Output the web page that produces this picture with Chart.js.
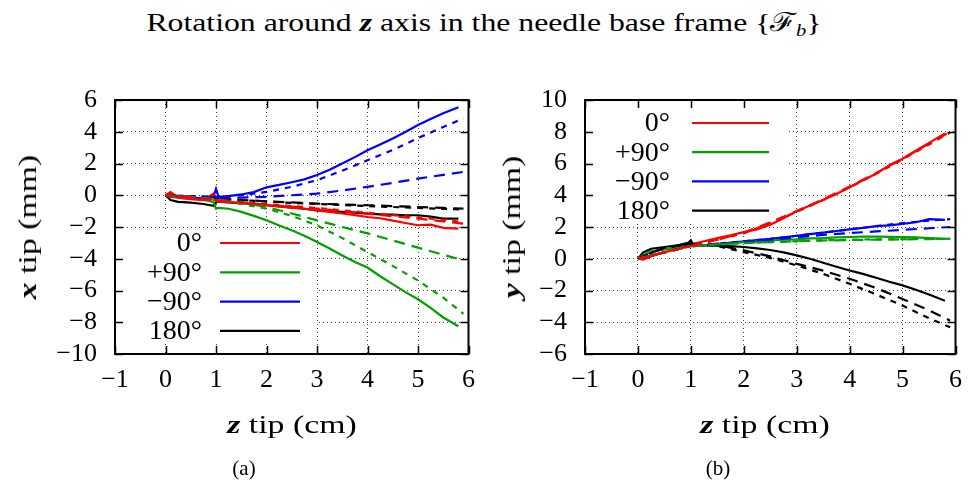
<!DOCTYPE html>
<html>
<head>
<meta charset="utf-8">
<script src="https://cdn.jsdelivr.net/npm/chart.js@4"></script>
<style>
  body { margin: 0; background: #fff; width: 973px; height: 489px; position: relative; overflow: hidden; font-family: "Liberation Serif", serif; color: #000; }
  .txt { position: absolute; white-space: nowrap; transform: translate(-50%, -50%) scaleX(1.3); font-size: 26px; }
  .rot { transform: translate(-50%, -50%) rotate(-90deg) scaleX(1.3); }
  .cap { transform: translate(-50%, -50%); font-size: 21px; }
  .title { transform: translate(-50%, -50%) scaleX(1.22); font-size: 26px; }
  canvas { position: absolute; top: 0; }
  sub { font-size: 65%; vertical-align: -0.25em; }
</style>
</head>
<body>
<div class="txt title" style="left:484px; top:22px;">Rotation around <b><i>z</i></b> axis in the needle base frame {ℱ<sub><i>b</i></sub>}</div>

<canvas id="chartX" width="486" height="489" style="left:0"></canvas>
<canvas id="chartY" width="487" height="489" style="left:486px"></canvas>

<div class="txt rot" style="left:28px; top:227px;"><b><i>x</i></b> tip (mm)</div>
<div class="txt rot" style="left:512px; top:227px;"><b><i>y</i></b> tip (mm)</div>
<div class="txt" style="left:292px; top:425px;"><b><i>z</i></b> tip (cm)</div>
<div class="txt" style="left:765px; top:425px;"><b><i>z</i></b> tip (cm)</div>
<div class="txt cap" style="left:244px; top:468px;">(a)</div>
<div class="txt cap" style="left:718px; top:468px;">(b)</div>

<script>
// insertion depth (cm)
const zMeas  = [0, 0.1, 0.25, 0.5, 0.75, 0.95, 1.0, 1.05, 1.25, 1.5, 1.75, 2.0, 2.25, 2.5, 2.75, 3.0, 3.25, 3.5, 3.75, 4.0, 4.25, 4.5, 4.75, 5.0, 5.25, 5.5, 5.8];
const zModel = [0, 0.5, 1, 1.5, 2, 2.5, 3, 3.5, 4, 4.5, 5, 5.5, 5.9];

const angleLabels = ['0°', '+90°', '\u221290°', '180°'];

// (a) x tip, measured
const xMeas0   = [0, 0.2, -0.15, -0.25, -0.3, 0.1, -0.35, -0.4, -0.45, -0.5, -0.55, -0.63, -0.7, -0.78, -0.85, -0.95, -1.05, -1.15, -1.25, -1.37, -1.45, -1.6, -1.75, -1.89, -1.85, -2.05, -2.1];
const xMeasP90 = [0, -0.1, -0.15, -0.21, -0.3, -0.42, -0.84, -0.8, -0.85, -1.05, -1.3, -1.58, -1.9, -2.2, -2.55, -2.95, -3.35, -3.79, -4.2, -4.55, -5.1, -5.6, -6.1, -6.55, -7.1, -7.7, -8.25];
const xMeasM90 = [0, 0.1, -0.1, -0.15, -0.2, -0.1, 0.4, -0.1, -0.05, 0.05, 0.2, 0.5, 0.65, 0.82, 1.0, 1.28, 1.6, 2.0, 2.4, 2.84, 3.2, 3.58, 3.98, 4.42, 4.8, 5.16, 5.55];
const xMeas180 = [0, -0.3, -0.42, -0.46, -0.55, -0.67, -0.45, -0.38, -0.45, -0.5, -0.55, -0.63, -0.7, -0.78, -0.85, -0.95, -1.0, -1.05, -1.1, -1.16, -1.2, -1.22, -1.26, -1.26, -1.35, -1.47, -1.47];
// (a) x tip, model long dash
const xModA0   = [0, -0.15, -0.3, -0.45, -0.6, -0.72, -0.84, -1.0, -1.16, -1.32, -1.47, -1.65, -1.79];
const xModAP90 = [0, -0.1, -0.25, -0.45, -0.74, -1.15, -1.58, -2.0, -2.4, -2.85, -3.3, -3.75, -4.1];
const xModAM90 = [0, -0.1, -0.15, -0.15, -0.1, 0, 0.1, 0.3, 0.53, 0.78, 1.05, 1.28, 1.47];
const xModA180 = [0, -0.1, -0.2, -0.3, -0.38, -0.45, -0.53, -0.58, -0.63, -0.68, -0.74, -0.8, -0.84];
// (a) x tip, model short dash
const xModB0   = [0, -0.15, -0.3, -0.42, -0.55, -0.68, -0.8, -0.95, -1.1, -1.25, -1.4, -1.55, -1.7];
const xModBP90 = [0, -0.15, -0.3, -0.55, -0.84, -1.3, -1.9, -2.7, -3.58, -4.45, -5.37, -6.45, -7.47];
const xModBM90 = [0, -0.05, -0.1, 0, 0.21, 0.53, 0.95, 1.55, 2.2, 2.85, 3.6, 4.3, 4.84];
const xModB180 = [0, -0.1, -0.2, -0.3, -0.4, -0.48, -0.55, -0.62, -0.68, -0.74, -0.8, -0.86, -0.9];

// (b) y tip, measured
const yMeas0   = [0, -0.05, 0.15, 0.42, 0.6, 0.8, 0.84, 0.95, 1.1, 1.3, 1.48, 1.68, 1.85, 2.15, 2.55, 3.0, 3.35, 3.7, 4.08, 4.5, 4.95, 5.35, 5.9, 6.3, 6.8, 7.3, 7.9];
const yMeasP90 = [0, 0.2, 0.45, 0.6, 0.7, 0.8, 0.9, 0.78, 0.85, 0.9, 0.98, 1.05, 1.1, 1.15, 1.2, 1.22, 1.28, 1.3, 1.35, 1.37, 1.4, 1.4, 1.38, 1.37, 1.35, 1.3, 1.26];
const yMeasM90 = [0, 0.2, 0.45, 0.6, 0.7, 0.85, 0.95, 0.8, 0.84, 0.9, 1.0, 1.1, 1.18, 1.25, 1.35, 1.45, 1.55, 1.65, 1.75, 1.85, 1.95, 2.05, 2.1, 2.2, 2.3, 2.5, 2.45];
const yMeas180 = [0, 0.4, 0.63, 0.74, 0.85, 1.0, 1.16, 0.84, 0.85, 0.82, 0.8, 0.74, 0.65, 0.55, 0.4, 0.21, 0.0, -0.25, -0.5, -0.74, -0.95, -1.2, -1.45, -1.68, -1.95, -2.25, -2.65];
// (b) y tip, model long dash
const yModA0   = [0, 0.4, 0.8, 1.2, 1.65, 2.3, 3.0, 3.75, 4.55, 5.4, 6.3, 7.25, 8.0];
const yModAP90 = [0, 0.4, 0.8, 0.9, 1.0, 1.05, 1.1, 1.15, 1.18, 1.2, 1.22, 1.24, 1.26];
const yModAM90 = [0, 0.4, 0.8, 0.95, 1.05, 1.2, 1.35, 1.5, 1.62, 1.72, 1.82, 1.92, 2.0];
const yModA180 = [0, 0.7, 0.95, 0.85, 0.53, 0.15, -0.32, -0.75, -1.26, -1.85, -2.53, -3.25, -3.9];
// (b) y tip, model short dash
const yModB0   = [0, 0.4, 0.8, 1.2, 1.6, 2.25, 2.95, 3.7, 4.5, 5.35, 6.25, 7.2, 7.95];
const yModBP90 = [0, 0.4, 0.8, 0.9, 0.98, 1.05, 1.1, 1.16, 1.2, 1.22, 1.24, 1.25, 1.26];
const yModBM90 = [0, 0.4, 0.8, 0.95, 1.1, 1.25, 1.45, 1.65, 1.85, 2.05, 2.25, 2.4, 2.5];
const yModB180 = [0, 0.7, 0.95, 0.8, 0.42, 0.05, -0.42, -0.95, -1.58, -2.25, -2.95, -3.75, -4.32];

const colors = ['#ff0000', '#00a000', '#0000ff', '#000000'];
const longDash = [11, 7];
const shortDash = [6, 6];
const serif = '"Liberation Serif", serif';

const pts = (zs, vs) => zs.map((z, i) => ({ x: z, y: vs[i] }));

function buildDatasets(meas, modA, modB) {
  const sets = [];
  meas.forEach((vals, i) => {
    sets.push({ data: pts(zModel, modA[i]), borderColor: colors[i], borderDash: longDash, borderWidth: 2.2 });
    sets.push({ data: pts(zModel, modB[i]), borderColor: colors[i], borderDash: shortDash, borderWidth: 2.2 });
  });
  meas.forEach((vals, i) => {
    sets.push({ data: pts(zMeas, vals), borderColor: colors[i], borderWidth: 2.2 });
  });
  return sets.map(s => Object.assign({ showLine: true, pointRadius: 0, fill: false, tension: 0 }, s));
}

const minus = v => String(v).replace('-', '\u2212');

// gnuplot-like frame, inward ticks and opaque key box
const framePlugin = {
  id: 'frame',
  beforeDatasetsDraw(chart, args, opts) {
    const { ctx } = chart;
    const k = opts.key;
    ctx.save();
    ctx.fillStyle = '#fff';
    ctx.fillRect(k.x, k.y, k.w, k.h);
    ctx.font = '28px ' + serif;
    ctx.textAlign = 'right';
    ctx.textBaseline = 'middle';
    angleLabels.forEach((lab, i) => {
      const y = k.row0 + i * k.rowH;
      ctx.fillStyle = '#000';
      ctx.fillText(lab, k.textX, y + 1);
      ctx.strokeStyle = colors[i];
      ctx.lineWidth = 2.2;
      ctx.beginPath();
      ctx.moveTo(k.lineX0, y);
      ctx.lineTo(k.lineX1, y);
      ctx.stroke();
    });
    ctx.restore();
  },
  afterDatasetsDraw(chart) {
    const { ctx, chartArea: a, scales } = chart;
    const len = 8;
    ctx.save();
    ctx.strokeStyle = '#000';
    ctx.lineWidth = 1.5;
    ctx.beginPath();
    scales.x.ticks.forEach(t => {
      const px = Math.round(scales.x.getPixelForValue(t.value)) + 0.5;
      ctx.moveTo(px, a.bottom); ctx.lineTo(px, a.bottom - len);
      ctx.moveTo(px, a.top); ctx.lineTo(px, a.top + len);
    });
    scales.y.ticks.forEach(t => {
      const py = Math.round(scales.y.getPixelForValue(t.value)) + 0.5;
      ctx.moveTo(a.left, py); ctx.lineTo(a.left + len, py);
      ctx.moveTo(a.right, py); ctx.lineTo(a.right - len, py);
    });
    ctx.stroke();
    ctx.lineWidth = 2;
    ctx.strokeRect(a.left, a.top, a.right - a.left, a.bottom - a.top);
    ctx.restore();
  }
};

function makeChart(id, datasets, yMin, yMax, yWidth, padRight, key) {
  const tickFont = { family: serif, size: 26 };
  const grid = { color: '#444', lineWidth: 1, drawTicks: false };
  const border = { display: false, dash: [1, 3] };
  return new Chart(document.getElementById(id), {
    type: 'scatter',
    data: { datasets },
    options: {
      responsive: false,
      animation: false,
      layout: { padding: { left: 0, right: padRight, top: 100, bottom: 0 } },
      plugins: { legend: { display: false }, tooltip: { enabled: false }, frame: { key } },
      scales: {
        x: {
          type: 'linear', min: -1, max: 6,
          ticks: { stepSize: 1, autoSkip: false, maxRotation: 0, color: '#000', font: tickFont, padding: 11, callback: minus },
          grid, border,
          afterFit: s => { s.height = 135; }
        },
        y: {
          type: 'linear', min: yMin, max: yMax,
          ticks: { stepSize: 2, autoSkip: false, color: '#000', font: tickFont, padding: 18, callback: minus },
          grid, border,
          afterFit: s => { s.width = yWidth; }
        }
      }
    },
    plugins: [framePlugin]
  });
}

makeChart('chartX',
  buildDatasets([xMeas0, xMeasP90, xMeasM90, xMeas180],
                [xModA0, xModAP90, xModAM90, xModA180],
                [xModB0, xModBP90, xModBM90, xModB180]),
  -10, 6, 115, 14,
  { x: 116, y: 229, w: 200, h: 115, row0: 243, rowH: 29.3, textX: 202, lineX0: 220, lineX1: 300 });

makeChart('chartY',
  buildDatasets([yMeas0, yMeasP90, yMeasM90, yMeas180],
                [yModA0, yModAP90, yModAM90, yModA180],
                [yModB0, yModBP90, yModBM90, yModB180]),
  -6, 10, 99, 15,
  { x: 100, y: 101, w: 201, h: 121, row0: 123, rowH: 29.2, textX: 184, lineX0: 206, lineX1: 283 });
</script>
</body>
</html>
